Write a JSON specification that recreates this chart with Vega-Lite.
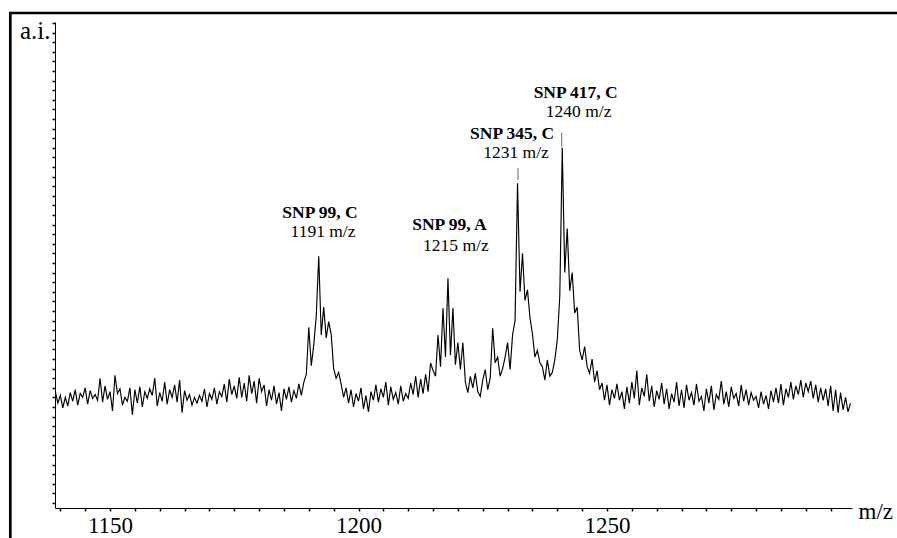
{
"$schema": "https://vega.github.io/schema/vega-lite/v6.json",
"autosize": {"type": "none"},
"padding": {"left": 55, "top": 22, "right": 45, "bottom": 30},
"width": 797,
"height": 486,
"background": "white",
"config": {"view": {"stroke": null}, "font": "Liberation Serif"},
"datasets": {
"frame": [{"x": 1129.94, "y": 51.04, "x2": 1340, "y2": -12}],
"markers": [{"x": 1232.09, "y": 33.64, "y2": 34.86}, {"x": 1240.88, "y": 37.1, "y2": 38.57}],
"names": [
{"x": 1192.25, "y": 29.7, "label": "SNP 99, C"},
{"x": 1218.3, "y": 28.4, "label": "SNP 99, A"},
{"x": 1230.9, "y": 37.9, "label": "SNP 345, C"},
{"x": 1243.7, "y": 42.2, "label": "SNP 417, C"}
],
"masses": [
{"x": 1192.86, "y": 27.7, "label": "1191 m/z"},
{"x": 1219.6, "y": 26.2, "label": "1215 m/z"},
{"x": 1231.7, "y": 35.9, "label": "1231 m/z"},
{"x": 1244.3, "y": 40.2, "label": "1240 m/z"}
],
"spectrum": [
{"x":1139.0,"y":11.6},{"x":1139.5,"y":10.4},{"x":1140.0,"y":11.2},{"x":1140.5,"y":9.9},{"x":1141.0,"y":11.0},{"x":1141.5,"y":10.1},{"x":1142.0,"y":11.5},{"x":1142.5,"y":10.6},{"x":1143.0,"y":11.8},{"x":1143.5,"y":10.2},
{"x":1144.0,"y":11.4},{"x":1144.5,"y":11.0},{"x":1145.0,"y":12.0},{"x":1145.5,"y":10.3},{"x":1146.0,"y":11.7},{"x":1146.5,"y":10.9},{"x":1147.0,"y":11.3},{"x":1147.5,"y":10.7},{"x":1148.0,"y":13.0},{"x":1148.5,"y":10.5},
{"x":1149.0,"y":12.2},{"x":1149.5,"y":10.8},{"x":1150.0,"y":11.6},{"x":1150.5,"y":9.6},{"x":1151.0,"y":13.3},{"x":1151.5,"y":11.4},{"x":1152.0,"y":11.9},{"x":1152.5,"y":10.2},{"x":1153.0,"y":11.0},{"x":1153.5,"y":10.6},
{"x":1154.0,"y":12.0},{"x":1154.5,"y":9.2},{"x":1155.0,"y":11.8},{"x":1155.5,"y":10.4},{"x":1156.0,"y":12.1},{"x":1156.5,"y":10.0},{"x":1157.0,"y":11.6},{"x":1157.5,"y":10.9},{"x":1158.0,"y":11.9},{"x":1158.5,"y":11.2},
{"x":1159.0,"y":13.0},{"x":1159.5,"y":10.1},{"x":1160.0,"y":11.5},{"x":1160.5,"y":10.6},{"x":1161.0,"y":12.6},{"x":1161.5,"y":10.3},{"x":1162.0,"y":11.8},{"x":1162.5,"y":11.0},{"x":1163.0,"y":12.3},{"x":1163.5,"y":10.5},
{"x":1164.0,"y":12.8},{"x":1164.5,"y":9.4},{"x":1165.0,"y":11.7},{"x":1165.5,"y":10.7},{"x":1166.0,"y":11.3},{"x":1166.5,"y":10.2},{"x":1167.0,"y":11.0},{"x":1167.5,"y":10.4},{"x":1168.0,"y":11.2},{"x":1168.5,"y":10.6},
{"x":1169.0,"y":11.9},{"x":1169.5,"y":10.0},{"x":1170.0,"y":11.4},{"x":1170.5,"y":10.8},{"x":1171.0,"y":12.0},{"x":1171.5,"y":10.3},{"x":1172.0,"y":11.6},{"x":1172.5,"y":11.1},{"x":1173.0,"y":12.4},{"x":1173.5,"y":10.5},
{"x":1174.0,"y":12.9},{"x":1174.5,"y":11.3},{"x":1175.0,"y":12.2},{"x":1175.5,"y":10.9},{"x":1176.0,"y":13.1},{"x":1176.5,"y":11.0},{"x":1177.0,"y":12.5},{"x":1177.5,"y":10.6},{"x":1178.0,"y":13.3},{"x":1178.5,"y":11.4},
{"x":1179.0,"y":12.7},{"x":1179.5,"y":10.4},{"x":1180.0,"y":13.0},{"x":1180.5,"y":11.6},{"x":1181.0,"y":12.3},{"x":1181.5,"y":10.1},{"x":1182.0,"y":11.8},{"x":1182.5,"y":10.7},{"x":1183.0,"y":12.2},{"x":1183.5,"y":10.3},
{"x":1184.0,"y":11.5},{"x":1184.5,"y":9.6},{"x":1185.0,"y":11.9},{"x":1185.5,"y":10.8},{"x":1186.0,"y":12.1},{"x":1186.5,"y":10.5},{"x":1187.0,"y":11.7},{"x":1187.5,"y":10.9},{"x":1188.0,"y":12.4},{"x":1188.5,"y":11.2},
{"x":1189.0,"y":12.6},{"x":1189.5,"y":13.4},{"x":1190.0,"y":18.3},{"x":1190.5,"y":14.3},{"x":1191.0,"y":16.5},{"x":1191.5,"y":19.5},{"x":1192.0,"y":25.7},{"x":1192.5,"y":17.5},{"x":1193.0,"y":20.4},{"x":1193.5,"y":17.2},
{"x":1194.0,"y":18.9},{"x":1194.5,"y":17.6},{"x":1195.0,"y":14.0},{"x":1195.5,"y":13.0},{"x":1196.0,"y":13.6},{"x":1196.5,"y":12.4},{"x":1197.0,"y":11.0},{"x":1197.5,"y":12.0},
{"x":1198.0,"y":10.4},{"x":1198.5,"y":11.8},{"x":1199.0,"y":10.0},{"x":1199.5,"y":11.4},{"x":1200.0,"y":10.6},{"x":1200.5,"y":12.0},{"x":1201.0,"y":9.8},{"x":1201.5,"y":11.2},{"x":1202.0,"y":9.5},{"x":1202.5,"y":11.6},
{"x":1203.0,"y":10.7},{"x":1203.5,"y":12.3},{"x":1204.0,"y":10.5},{"x":1204.5,"y":11.9},{"x":1205.0,"y":11.0},{"x":1205.5,"y":12.6},{"x":1206.0,"y":10.2},{"x":1206.5,"y":12.1},{"x":1207.0,"y":10.8},{"x":1207.5,"y":11.5},
{"x":1208.0,"y":10.3},{"x":1208.5,"y":12.2},{"x":1209.0,"y":10.6},{"x":1209.5,"y":11.4},{"x":1210.0,"y":10.9},{"x":1210.5,"y":12.5},{"x":1211.0,"y":11.3},{"x":1211.5,"y":13.2},
{"x":1212.0,"y":11.0},{"x":1212.5,"y":12.9},{"x":1213.0,"y":11.4},{"x":1213.5,"y":13.4},{"x":1214.0,"y":11.6},{"x":1214.5,"y":14.6},{"x":1215.0,"y":13.8},{"x":1215.5,"y":13.2},{"x":1216.0,"y":17.5},{"x":1216.5,"y":14.2},
{"x":1217.0,"y":20.3},{"x":1217.5,"y":15.2},{"x":1218.0,"y":23.4},{"x":1218.5,"y":15.4},{"x":1219.0,"y":20.3},{"x":1219.5,"y":14.4},{"x":1220.0,"y":16.7},{"x":1220.5,"y":13.9},{"x":1221.0,"y":16.7},{"x":1221.5,"y":12.6},
{"x":1222.0,"y":11.5},{"x":1222.5,"y":13.2},{"x":1223.0,"y":12.0},{"x":1223.5,"y":13.5},{"x":1224.0,"y":11.6},{"x":1224.5,"y":11.1},{"x":1225.0,"y":12.8},{"x":1225.5,"y":13.9},{"x":1226.0,"y":11.8},{"x":1226.5,"y":13.0},
{"x":1227.0,"y":18.2},{"x":1227.5,"y":14.6},{"x":1228.0,"y":15.2},{"x":1228.5,"y":13.2},{"x":1229.0,"y":14.0},{"x":1229.5,"y":15.2},{"x":1230.0,"y":16.7},{"x":1230.5,"y":13.9},{"x":1231.0,"y":17.5},{"x":1231.5,"y":19.0},
{"x":1232.0,"y":33.3},{"x":1232.5,"y":22.0},{"x":1233.0,"y":26.0},{"x":1233.5,"y":21.1},{"x":1234.0,"y":22.2},{"x":1234.5,"y":19.3},{"x":1235.0,"y":17.6},{"x":1235.5,"y":15.2},{"x":1236.0,"y":15.9},{"x":1236.5,"y":14.6},
{"x":1237.0,"y":14.2},{"x":1237.5,"y":12.8},{"x":1238.0,"y":14.9},{"x":1238.5,"y":13.2},{"x":1239.0,"y":13.6},{"x":1239.5,"y":14.9},{"x":1240.0,"y":17.0},{"x":1240.5,"y":21.5},{"x":1241.0,"y":37.0},{"x":1241.5,"y":24.0},
{"x":1242.0,"y":28.6},{"x":1242.5,"y":22.1},{"x":1243.0,"y":24.0},{"x":1243.5,"y":19.8},{"x":1244.0,"y":20.4},{"x":1244.5,"y":15.9},{"x":1245.0,"y":14.9},{"x":1245.5,"y":16.3},{"x":1246.0,"y":14.2},{"x":1246.5,"y":13.5},
{"x":1247.0,"y":15.0},{"x":1247.5,"y":12.6},{"x":1248.0,"y":13.8},{"x":1248.5,"y":11.8},{"x":1249.0,"y":12.5},{"x":1249.5,"y":10.7},{"x":1250.0,"y":12.3},{"x":1250.5,"y":10.2},{"x":1251.0,"y":11.8},{"x":1251.5,"y":10.9},
{"x":1252.0,"y":12.4},{"x":1252.5,"y":10.7},{"x":1253.0,"y":11.6},{"x":1253.5,"y":9.8},{"x":1254.0,"y":12.1},{"x":1254.5,"y":10.4},{"x":1255.0,"y":12.6},{"x":1255.5,"y":10.9},{"x":1256.0,"y":13.8},{"x":1256.5,"y":10.2},
{"x":1257.0,"y":12.0},{"x":1257.5,"y":11.1},{"x":1258.0,"y":13.4},{"x":1258.5,"y":10.6},{"x":1259.0,"y":12.2},{"x":1259.5,"y":10.0},{"x":1260.0,"y":11.7},{"x":1260.5,"y":10.8},{"x":1261.0,"y":12.5},{"x":1261.5,"y":10.3},
{"x":1262.0,"y":11.9},{"x":1262.5,"y":9.8},{"x":1263.0,"y":11.4},{"x":1263.5,"y":10.5},{"x":1264.0,"y":12.6},{"x":1264.5,"y":10.1},{"x":1265.0,"y":11.8},{"x":1265.5,"y":9.9},{"x":1266.0,"y":12.3},{"x":1266.5,"y":10.7},
{"x":1267.0,"y":11.5},{"x":1267.5,"y":10.2},{"x":1268.0,"y":12.4},{"x":1268.5,"y":10.6},{"x":1269.0,"y":11.1},{"x":1269.5,"y":9.6},{"x":1270.0,"y":11.9},{"x":1270.5,"y":10.4},{"x":1271.0,"y":12.2},{"x":1271.5,"y":9.7},
{"x":1272.0,"y":11.3},{"x":1272.5,"y":10.8},{"x":1273.0,"y":12.7},{"x":1273.5,"y":10.3},{"x":1274.0,"y":11.6},{"x":1274.5,"y":10.0},{"x":1275.0,"y":12.1},{"x":1275.5,"y":10.9},{"x":1276.0,"y":11.4},{"x":1276.5,"y":10.1},
{"x":1277.0,"y":12.3},{"x":1277.5,"y":10.6},{"x":1278.0,"y":11.8},{"x":1278.5,"y":10.2},{"x":1279.0,"y":11.5},{"x":1279.5,"y":10.7},{"x":1280.0,"y":11.1},{"x":1280.5,"y":9.9},{"x":1281.0,"y":11.6},{"x":1281.5,"y":10.3},
{"x":1282.0,"y":11.2},{"x":1282.5,"y":9.8},{"x":1283.0,"y":11.7},{"x":1283.5,"y":10.5},{"x":1284.0,"y":12.0},{"x":1284.5,"y":10.4},{"x":1285.0,"y":12.4},{"x":1285.5,"y":10.2},{"x":1286.0,"y":11.9},{"x":1286.5,"y":11.0},
{"x":1287.0,"y":12.6},{"x":1287.5,"y":10.8},{"x":1288.0,"y":12.2},{"x":1288.5,"y":11.3},{"x":1289.0,"y":12.8},{"x":1289.5,"y":11.0},{"x":1290.0,"y":12.5},{"x":1290.5,"y":11.6},{"x":1291.0,"y":12.7},{"x":1291.5,"y":10.9},
{"x":1292.0,"y":12.3},{"x":1292.5,"y":10.5},{"x":1293.0,"y":12.0},{"x":1293.5,"y":10.7},{"x":1294.0,"y":11.9},{"x":1294.5,"y":10.1},{"x":1295.0,"y":12.2},{"x":1295.5,"y":9.6},{"x":1296.0,"y":11.8},{"x":1296.5,"y":9.4},
{"x":1297.0,"y":11.5},{"x":1297.5,"y":9.7},{"x":1298.0,"y":11.0},{"x":1298.5,"y":9.5},{"x":1299.0,"y":10.4}
]
},
"encoding": {
"x": {"field": "x", "type": "quantitative",
 "scale": {"domain": [1138.93, 1299.3], "nice": false, "zero": false},
 "axis": {"values": [1140,1145,1150,1155,1160,1165,1170,1175,1180,1185,1190,1195,1200,1205,1210,1215,1220,1225,1230,1235,1240,1245,1250,1255,1260,1265,1270,1275,1280,1285,1290,1295],
  "format": "d", "labelExpr": "datum.value % 50 == 0 ? datum.label : ''",
  "labelFont": "Liberation Serif", "labelFontSize": 23, "labelColor": "black", "labelPadding": 3, "labelFlush": false, "labelOverlap": false,
  "tickSize": 3, "tickColor": "black", "tickWidth": 1.5, "domainColor": "black", "domainWidth": 1, "grid": false,
  "title": "m/z", "titleFont": "Liberation Serif", "titleFontSize": 23, "titleFontWeight": "normal", "titleColor": "black",
  "titleX": 803, "titleY": 10, "titleAlign": "left", "titleBaseline": "alphabetic", "titleAngle": 0}},
"y": {"field": "y", "type": "quantitative",
 "scale": {"domain": [-0.52, 50.1], "nice": false, "zero": false},
 "axis": {"values": [0,1,2,3,4,5,6,7,8,9,10,11,12,13,14,15,16,17,18,19,20,21,22,23,24,25,26,27,28,29,30,31,32,33,34,35,36,37,38,39,40,41,42,43,44,45,46,47,48,49,50],
  "labels": false, "tickSize": 3, "tickColor": "black", "tickWidth": 1.5, "domainColor": "black", "domainWidth": 1, "grid": false,
  "title": "a.i.", "titleFont": "Liberation Serif", "titleFontSize": 25, "titleFontWeight": "normal", "titleColor": "black",
  "titleAngle": 0, "titleX": -5, "titleY": 16, "titleAlign": "right", "titleBaseline": "alphabetic"}}
},
"layer": [
{"data": {"name": "frame"}, "mark": {"type": "rect", "fillOpacity": 0, "stroke": "black", "strokeWidth": 2.7, "clip": false},
 "encoding": {"x2": {"field": "x2"}, "y2": {"field": "y2"}}},
{"data": {"name": "spectrum"}, "mark": {"type": "line", "color": "black", "strokeWidth": 1.15}, "encoding": {}},
{"data": {"name": "markers"}, "mark": {"type": "rule", "color": "#808080", "strokeWidth": 1.2}, "encoding": {"y2": {"field": "y2"}}},
{"data": {"name": "names"}, "mark": {"type": "text", "font": "Liberation Serif", "fontSize": 17.5, "fontWeight": "bold", "align": "center", "baseline": "alphabetic", "color": "black"},
 "encoding": {"text": {"field": "label"}}},
{"data": {"name": "masses"}, "mark": {"type": "text", "font": "Liberation Serif", "fontSize": 17.5, "fontWeight": "normal", "align": "center", "baseline": "alphabetic", "color": "black"},
 "encoding": {"text": {"field": "label"}}}
]
}
